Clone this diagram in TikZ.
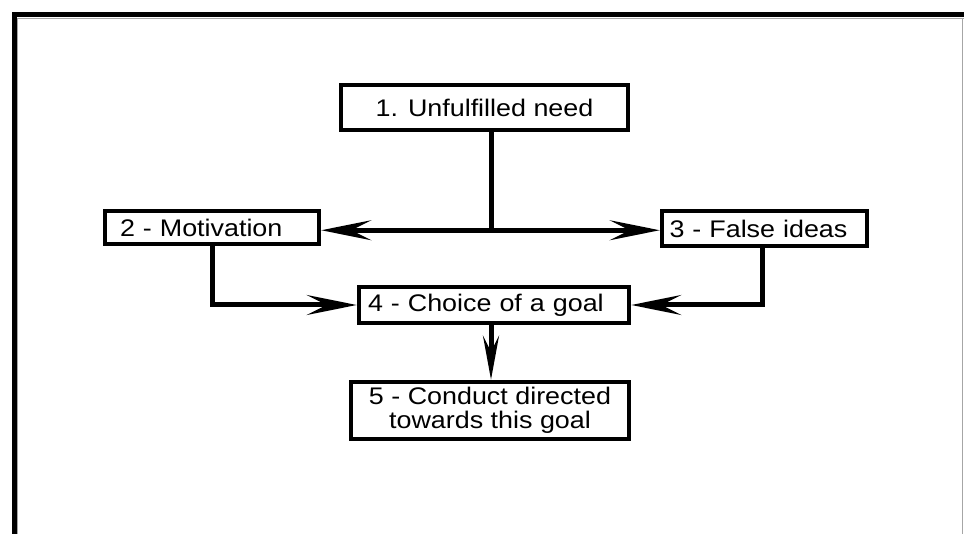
\documentclass[tikz,border=0pt]{standalone}
\usepackage{fontspec}
\setmainfont{Liberation Sans}[FakeStretch=1.12]
\usetikzlibrary{arrows.meta,calc}
\tikzset{
  box/.style={draw, line width=4.5pt, rectangle, inner sep=0pt, font=\fontsize{24}{28}\selectfont},
  conn/.style={line width=5pt},
  arr/.style={conn, -{Stealth[length=50pt,width=20pt,inset=20pt]}},
  darr/.style={conn, -{Stealth[length=44pt,width=16pt,inset=16pt]}}
}
\begin{document}
\begin{tikzpicture}[x=1pt,y=-1pt]
\useasboundingbox (0,0) rectangle (964,534);
% frame
\draw[line width=5pt] (14,534) -- (14,15) -- (964,15);
\draw[black!35, line width=1pt] (17.5,534) -- (17.5,18.5) -- (964,18.5);
\draw[black!35, line width=1.3pt] (962.6,18) -- (962.6,534);
% boxes
\node[box, minimum width=287pt, minimum height=45pt] (b1) at (484.5,107.5) {1. Unfulfilled need};
\node[box, minimum width=214pt, minimum height=33pt, text width=184pt, align=left] (b2) at (212,227.5) {2 - Motivation};
\node[box, minimum width=205pt, minimum height=35pt, text width=190pt, align=left] (b3) at (764.5,228.5) {3 - False ideas};
\node[box, minimum width=270pt, minimum height=36pt, text width=252pt, align=left] (b4) at (494,305) {4 - Choice of a goal};
\node[box, minimum width=278pt, minimum height=57pt, align=center, font=\fontsize{24}{24}\selectfont] (b5) at (490,410.5) {5 - Conduct directed\\towards this goal};
% connectors
\coordinate (cx) at (491,0);
\coordinate (c3) at (762,0);
\coordinate (j) at ($(b1.south -| cx) + (0,98)$);
\draw[conn] (b1.south -| cx) -- (j);
\draw[arr] (j) -- (b2.east |- j);
\draw[arr] (j) -- (b3.west |- j);
\draw[arr] (b2.south) |- (b4.west);
\draw[arr] (b3.south -| c3) |- (b4.east);
\draw[darr] (b4.south -| cx) -- (b5.north -| cx);
\end{tikzpicture}
\end{document}
